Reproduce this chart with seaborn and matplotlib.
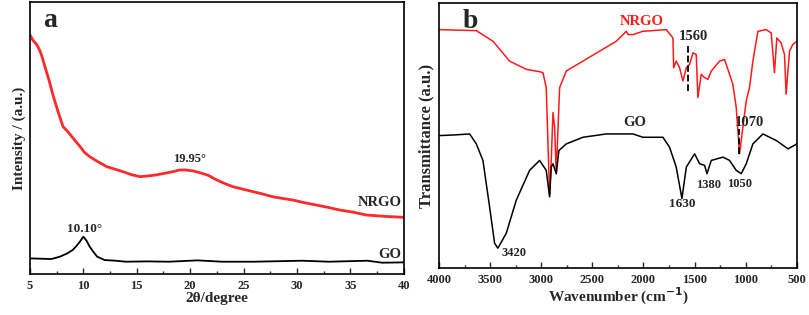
import numpy as np
import pandas as pd
import seaborn as sns
import matplotlib.pyplot as plt
from matplotlib.ticker import MultipleLocator

# XRD data (panel a), intensity in arbitrary units
xrd_theta_nrgo = [5.0, 5.3, 5.6, 5.9, 6.1, 6.4, 6.8, 7.2, 7.6, 8.1, 8.6, 9.1, 9.7, 10.1, 10.6,
                  11.3, 12.2, 13.0, 13.7, 14.5, 15.3, 16.0, 16.8, 17.6, 18.4, 19.0, 19.6, 20.3,
                  20.9, 21.7, 22.5, 23.2, 24.0, 25.0, 25.9, 26.8, 27.7, 28.6, 29.6, 30.7, 31.8,
                  32.9, 34.0, 35.2, 36.5, 38.2, 40.0]
xrd_int_nrgo = [717, 700, 690, 672, 655, 622, 580, 532, 490, 442, 425, 405, 382, 365, 352,
                338, 322, 314, 307, 298, 292, 294, 297, 302, 307, 312, 312, 309,
                304, 296, 282, 272, 262, 254, 247, 240, 232, 227, 222, 214, 207,
                200, 192, 186, 177, 173, 170]
xrd_theta_go = [5.0, 6.0, 7.0, 7.8, 8.5, 9.0, 9.3, 9.7, 10.0, 10.3, 10.6, 11.0, 11.3, 12.0,
                13.0, 14.0, 16.0, 18.0, 20.7, 23.0, 26.0, 30.5, 33.0, 36.6, 38.0, 40.0]
xrd_int_go = [47, 46, 45, 52, 62, 72, 82, 98, 112, 100, 82, 64, 52, 42,
              40, 37, 38, 37, 41, 37, 37, 40, 37, 40, 34, 35]

# FTIR data (panel b), transmittance in arbitrary units
ir_wn_nrgo = [4000, 3635, 3472, 3309, 3146, 3016, 2983, 2951, 2918, 2902, 2885, 2869, 2853,
              2820, 2755, 2592, 2429, 2266, 2168, 2150, 2103, 2006, 1777, 1712, 1705, 1680,
              1647, 1614, 1581, 1549, 1516, 1484, 1468, 1435, 1402, 1370, 1337, 1256, 1207,
              1158, 1126, 1093, 1060, 1028, 995, 963, 930, 881, 800, 751, 719, 696, 654,
              621, 605, 572, 540, 500]
ir_tr_nrgo = [720, 717, 685, 625, 600, 593, 590, 545, 220, 325, 470, 425, 285,
              545, 595, 625, 655, 685, 715, 705, 705, 715, 720, 695, 605, 625,
              605, 565, 605, 615, 650, 645, 515, 585, 575, 570, 595, 625, 630,
              585, 555, 485, 345, 425, 505, 545, 625, 715, 720, 710, 590, 695, 680,
              645, 525, 655, 675, 685]
ir_wn_go = [4000, 3850, 3700, 3635, 3570, 3505, 3456, 3424, 3342, 3244, 3114, 3016, 2951,
            2918, 2902, 2885, 2853, 2827, 2755, 2592, 2364, 2103, 2006, 1810, 1745, 1680,
            1624, 1581, 1500, 1451, 1402, 1379, 1337, 1223, 1158, 1093, 1044, 995, 930,
            832, 700, 586, 500]
ir_tr_go = [400, 402, 405, 375, 325, 185, 75, 60, 105, 205, 295, 325, 295,
            215, 305, 315, 285, 355, 375, 395, 405, 405, 395, 395, 365, 305,
            210, 305, 345, 315, 310, 285, 325, 335, 325, 295, 285, 315, 375,
            405, 385, 360, 375]

sns.set_style("white")
plt.rcParams['font.family'] = ['Liberation Serif', 'DejaVu Serif']
plt.rcParams['font.weight'] = 'bold'

fig = plt.figure(figsize=(8.09, 3.15), dpi=100)
ax1 = fig.add_axes([0.037, 0.130, 0.462, 0.864])
ax2 = fig.add_axes([0.5426, 0.149, 0.4424, 0.841])

# panel a
sns.lineplot(x=xrd_theta_nrgo, y=xrd_int_nrgo, ax=ax1, color='#ff2a2a', lw=2.0, estimator=None)
sns.lineplot(x=xrd_theta_go, y=xrd_int_go, ax=ax1, color='black', lw=1.3, estimator=None)
ax1.set_xlim(5, 40)
ax1.set_ylim(0, 816)
ax1.xaxis.set_major_locator(MultipleLocator(5))
ax1.xaxis.set_minor_locator(MultipleLocator(2.5))
ax1.set_yticks([])
ax1.set_xlabel('2θ/degree', fontsize=11, fontweight='bold', labelpad=0)
ax1.set_ylabel('Intensity / (a.u.)', fontsize=11, fontweight='bold', labelpad=3)
ax1.text(6.2, 760, 'a', fontsize=20, fontweight='bold', va='center')
ax1.text(19.95, 335, '19.95°', fontsize=9, fontweight='bold', ha='center')
ax1.text(10.1, 125, '10.10°', fontsize=9.5, fontweight='bold', ha='center')
ax1.text(39.8, 205, 'NRGO', fontsize=10.5, fontweight='bold', ha='right')
ax1.text(39.8, 48, 'GO', fontsize=10.5, fontweight='bold', ha='right')

# panel b
sns.lineplot(x=ir_wn_nrgo, y=ir_tr_nrgo, ax=ax2, color='#ff1a1a', lw=1.1, estimator=None)
sns.lineplot(x=ir_wn_go, y=ir_tr_go, ax=ax2, color='black', lw=1.1, estimator=None)
ax2.set_xlim(4000, 500)
ax2.set_ylim(0, 800)
ax2.xaxis.set_major_locator(MultipleLocator(500))
ax2.xaxis.set_minor_locator(MultipleLocator(250))
ax2.set_yticks([])
ax2.set_xlabel('Wavenumber (cm$^{\\mathbf{-1}}$)', fontsize=11, fontweight='bold', labelpad=0)
ax2.set_ylabel('Transmittance (a.u.)', fontsize=12, fontweight='bold', labelpad=3)
ax2.text(3770, 745, 'b', fontsize=20, fontweight='bold', va='center')
ax2.text(2020, 745, 'NRGO', fontsize=10.5, fontweight='bold', ha='center', va='center', color='#ff1a1a')
ax2.text(1510, 700, '1560', fontsize=10.5, fontweight='bold', ha='center', va='center')
ax2.plot([1560, 1560], [535, 670], ls='--', color='black', lw=1.3)
ax2.text(2090, 440, 'GO', fontsize=10.5, fontweight='bold', ha='center', va='center')
ax2.text(960, 440, '1070', fontsize=10.5, fontweight='bold', ha='center', va='center')
ax2.plot([1070, 1070], [345, 420], ls='--', color='black', lw=1.3)
ax2.text(1624, 192, '1630', fontsize=9.5, fontweight='bold', ha='center', va='center')
ax2.text(1360, 250, '1380', fontsize=9, fontweight='bold', ha='center', va='center')
ax2.text(1060, 255, '1050', fontsize=9, fontweight='bold', ha='center', va='center')
ax2.text(3270, 45, '3420', fontsize=9, fontweight='bold', ha='center', va='center')

for ax in (ax1, ax2):
    for s in ax.spines.values():
        s.set_linewidth(1.2)
        s.set_color('black')
    ax.tick_params(axis='x', which='both', direction='in', bottom=True, top=False,
                   labelsize=9, width=1.0, pad=4)
    ax.tick_params(axis='x', which='major', length=4)
    ax.tick_params(axis='x', which='minor', length=2.5)
    for lbl in ax.get_xticklabels():
        lbl.set_fontweight('bold')

fig.savefig('out.png', dpi=100)
